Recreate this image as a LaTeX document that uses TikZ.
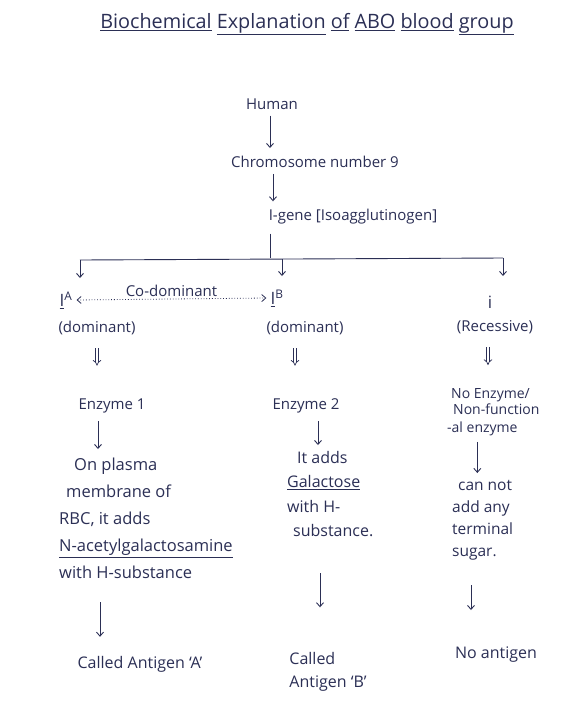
\documentclass[tikz,border=0pt]{standalone}
\usepackage{fontspec}
\setmainfont{Open Sans}
\usetikzlibrary{arrows.meta,calc}
\definecolor{ink}{HTML}{2B2F55}
\begin{document}
\begin{tikzpicture}[x=1pt,y=-1pt,
  txt/.style={text=ink, inner sep=1pt, font=\fontsize{15}{18}\selectfont},
  small/.style={text=ink, inner sep=1pt, font=\fontsize{14}{17}\selectfont},
  conn/.style={draw=ink, line width=0.9pt, -{Straight Barb[length=4pt,width=7pt]}},
  plain/.style={draw=ink, line width=0.9pt},
  dbl/.style={draw=ink, line width=0.7pt, double=white, double distance=2.2pt, -{Implies}},
  dotconn/.style={draw=ink, line width=0.8pt, dotted, {Straight Barb[length=4pt,width=7pt]}-{Straight Barb[length=4pt,width=7pt]}}]
\fill[white] (0,0) rectangle (560,726);
\useasboundingbox (0,0) rectangle (560,726);

% title
\node[txt, font=\fontsize{19.8}{24}\selectfont] (title) at (307,24)
  {\underline{Biochemical} \underline{Explanation} \underline{of} \underline{ABO} \underline{blood} \underline{group}};

% trunk
\node[txt] (human) at (272,104) {Human};
\node[txt] (chrom) at (315,162) {Chromosome number 9};
\node[txt] (igene) at (353,217) {I-gene [Isoagglutinogen]};
\coordinate (j) at (270,258);
\coordinate (jl) at (80,260);
\coordinate (jm) at (282,259);
\coordinate (jr) at (503,258);

\draw[conn] ($(human.south)+(-2,5)$) -- ($(human.south |- chrom.north)+(-2,-7)$);
\draw[conn] ($(chrom.south)+(-42,5)$) -- ($(chrom.south |- igene.north)+(-42,-7)$);
\draw[plain] ($(j |- igene.south)+(0,8)$) -- (j);
\draw[plain] (jl) -- (jr);

% alleles
\node[txt, font=\fontsize{17}{20}\selectfont] (IA) at (66,300) {\underline{I}\textsuperscript{A}};
\node[txt, font=\fontsize{17}{20}\selectfont] (IB) at (277,298) {\underline{I}\textsuperscript{B}};
\node[txt, font=\fontsize{17}{20}\selectfont] (ir) at (490,302) {i};
\draw[conn] (jl) -- ($(jl)+(0,18)$);
\draw[conn] (jm) -- ($(jm)+(0,17)$);
\draw[conn] (jr) -- ($(jr)+(0,18)$);
\draw[dotconn] ($(IA.east)+(3,0)$) -- node[txt, above=1pt] (codom) {Co-dominant} ($(IB.west)+(-3,0)$);

\node[txt] (domA) at (97,328) {(dominant)};
\node[txt] (domB) at (305,328) {(dominant)};
\node[txt] (rec) at (495,327) {(Recessive)};

% enzymes
\node[txt] (enz1) at (112,406) {Enzyme 1};
\node[txt] (enz2) at (306,406) {Enzyme 2};
\node[small, align=left, anchor=north west] (noenz) at (446,387)
  {\hspace*{4pt}No Enzyme/\\[-1pt]\hspace*{6pt}Non-function\\[1pt]-al enzyme};
\draw[dbl] ($(domA.south)+(0,12)$) -- ($(domA.south |- enz1.north)+(0,-32)$);
\draw[dbl] ($(domB.south)+(-10,12)$) -- ($(domB.south |- enz1.north)+(-10,-32)$);
\draw[dbl] ($(rec.south)+(-7,12)$) -- ($(rec.south |- noenz.north)+(-7,-22)$);

% actions
\node[txt, align=left, anchor=north west, font=\fontsize{16.5}{27}\selectfont] (actA) at (58,457)
  {\hspace*{15pt}On plasma\\\hspace*{7pt}membrane of\\RBC, it adds\\\underline{N-acetylgalactosamine}\\with H-substance};
\node[txt, align=left, anchor=north west, font=\fontsize{16}{24.5}\selectfont] (actB) at (286,450)
  {\hspace*{10pt}It adds\\\underline{Galactose}\\with H-\\\hspace*{6pt}substance.};
\node[txt, align=left, anchor=north west, font=\fontsize{15.5}{22}\selectfont] (actC) at (451,479)
  {\hspace*{6pt}can not\\add any\\terminal\\sugar.};
\draw[conn] ($(enz1.south)+(-14,7)$) -- ($(enz1.south |- actA.north)+(-14,-8)$);
\draw[conn] ($(enz2.south)+(12,7)$) -- ($(enz2.south |- actB.north)+(12,-5)$);
\draw[conn] ($(noenz.south)+(-16,5)$) -- ($(noenz.south |- actC.north)+(-16,-6)$);

% results
\node[txt, font=\fontsize{16}{19}\selectfont] (resA) at (140,664) {Called Antigen ‘A’};
\node[txt, align=left, font=\fontsize{16}{19}\selectfont] (resB) at (328,672) {Called\\[4pt]Antigen ‘B’};
\node[txt, font=\fontsize{16}{19}\selectfont] (resC) at (496,655) {No antigen};
\draw[conn] ($(actA.south west)+(42,22)$) -- ($(actA.south west |- resA.north)+(42,-18)$);
\draw[conn] ($(actB.south west)+(34,35)$) -- ($(actB.south west |- resB.north)+(34,-44)$);
\draw[conn] ($(actC.south west)+(20,24)$) -- ($(actC.south west |- resC.north)+(20,-36)$);
\end{tikzpicture}
\end{document}
